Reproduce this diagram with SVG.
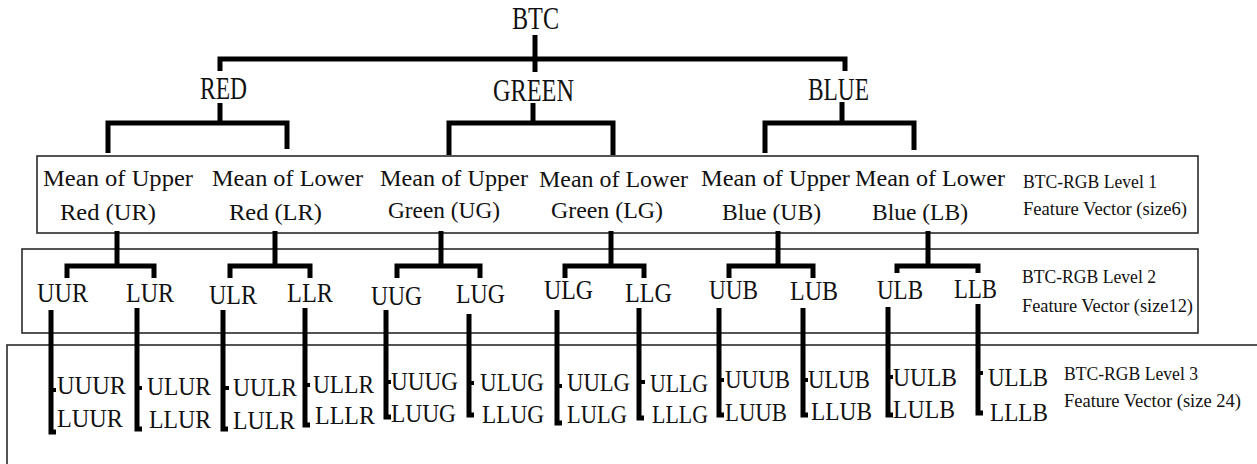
<svg xmlns="http://www.w3.org/2000/svg" width="1257" height="464" viewBox="0 0 1257 464">
  <style>
    text { font-family: "Liberation Serif", "Times New Roman", serif; fill: #111; }
    .t0 { font-size: 31px; }
    .t1 { font-size: 31px; }
    .l1 { font-size: 23px; }
    .l2 { font-size: 28px; }
    .l3 { font-size: 26px; }
    .side { font-size: 19px; }
    .box { fill: none; stroke: #2a2a2a; stroke-width: 1.6; }
    .wire { fill: none; stroke: #000; stroke-width: 5; stroke-linejoin: miter; }
    .tick { fill: none; stroke: #000; stroke-width: 4; }
  </style>

  <!-- level frames -->
  <g id="frames">
    <rect id="level1-box" class="box" x="37" y="156" width="1161" height="77"/>
    <rect id="level2-box" class="box" x="22" y="249" width="1176" height="84"/>
    <rect id="level3-box" class="box" x="7" y="345" width="1262" height="140"/>
  </g>

  <!-- connectors -->
  <g id="connectors">
    <!-- root -->
    <path class="wire" d="M535,35 V72"/>
    <path class="wire" d="M220,71 V59 H845 V71"/>
    <!-- colour channels -->
    <path class="wire" d="M220,103 V123"/>
    <path class="wire" d="M108,153 V123 H287 V149"/>
    <path class="wire" d="M533,103 V123"/>
    <path class="wire" d="M449,155 V123 H613 V155"/>
    <path class="wire" d="M842,102 V123"/>
    <path class="wire" d="M765,153 V123 H914 V150"/>
    <!-- level 1 to level 2 -->
    <path class="wire" d="M117,231 V266"/>
    <path class="wire" d="M67,278 V266 H154 V278"/>
    <path class="wire" d="M275,231 V266"/>
    <path class="wire" d="M230,278 V266 H310 V278"/>
    <path class="wire" d="M441,231 V266"/>
    <path class="wire" d="M397,278 V266 H480 V278"/>
    <path class="wire" d="M611,231 V266"/>
    <path class="wire" d="M565,278 V266 H644 V278"/>
    <path class="wire" d="M778,231 V266"/>
    <path class="wire" d="M729,278 V266 H813 V278"/>
    <path class="wire" d="M928,231 V266"/>
    <path class="wire" d="M897,273 V266 H978 V273"/>
    <!-- level 2 to level 3 -->
    <path class="wire" d="M51,310 V432 h5"/>   <path class="tick" d="M51,390 h5"/>
    <path class="wire" d="M137,308 V429 h5"/>  <path class="tick" d="M137,388 h5"/>
    <path class="wire" d="M223,310 V429 h5"/>  <path class="tick" d="M223,388 h6"/>
    <path class="wire" d="M305,308 V425 h5"/>  <path class="tick" d="M305,385 h5"/>
    <path class="wire" d="M386,310 V417 h5"/>  <path class="tick" d="M386,382 h5"/>
    <path class="wire" d="M469,314 V415 h5"/>  <path class="tick" d="M469,383 h5"/>
    <path class="wire" d="M557,310 V423 h5"/>  <path class="tick" d="M557,386 h5"/>
    <path class="wire" d="M639,308 V418 h5"/>  <path class="tick" d="M639,382 h6"/>
    <path class="wire" d="M719,308 V415 h5"/>  <path class="tick" d="M719,380 h5"/>
    <path class="wire" d="M803,308 V415 h5"/>  <path class="tick" d="M803,380 h5"/>
    <path class="wire" d="M888,307 V415 h5"/>  <path class="tick" d="M888,377 h5"/>
    <path class="wire" d="M978,304 V413 h5"/>  <path class="tick" d="M978,373 h5"/>
  </g>

  <!-- root and channels -->
  <g id="node-btc"><text class="t0" x="512" y="29" textLength="47" lengthAdjust="spacingAndGlyphs">BTC</text></g>
  <g id="node-red"><text class="t1" x="200" y="99" textLength="47" lengthAdjust="spacingAndGlyphs">RED</text></g>
  <g id="node-green"><text class="t1" x="493" y="101" textLength="81" lengthAdjust="spacingAndGlyphs">GREEN</text></g>
  <g id="node-blue"><text class="t1" x="808" y="100" textLength="61" lengthAdjust="spacingAndGlyphs">BLUE</text></g>

  <!-- level 1 -->
  <g id="node-ur">
    <text class="l1" x="43" y="186" textLength="150" lengthAdjust="spacingAndGlyphs">Mean of Upper</text>
    <text class="l1" x="60" y="220" textLength="96" lengthAdjust="spacingAndGlyphs">Red (UR)</text>
  </g>
  <g id="node-lr">
    <text class="l1" x="212" y="186" textLength="151" lengthAdjust="spacingAndGlyphs">Mean of Lower</text>
    <text class="l1" x="229" y="220" textLength="93" lengthAdjust="spacingAndGlyphs">Red (LR)</text>
  </g>
  <g id="node-ug">
    <text class="l1" x="380" y="186" textLength="148" lengthAdjust="spacingAndGlyphs">Mean of Upper</text>
    <text class="l1" x="388" y="218" textLength="112" lengthAdjust="spacingAndGlyphs">Green (UG)</text>
  </g>
  <g id="node-lg">
    <text class="l1" x="539" y="187" textLength="149" lengthAdjust="spacingAndGlyphs">Mean of Lower</text>
    <text class="l1" x="551" y="218" textLength="112" lengthAdjust="spacingAndGlyphs">Green (LG)</text>
  </g>
  <g id="node-ub">
    <text class="l1" x="701" y="186" textLength="149" lengthAdjust="spacingAndGlyphs">Mean of Upper</text>
    <text class="l1" x="722" y="220" textLength="99" lengthAdjust="spacingAndGlyphs">Blue (UB)</text>
  </g>
  <g id="node-lb">
    <text class="l1" x="855" y="186" textLength="150" lengthAdjust="spacingAndGlyphs">Mean of Lower</text>
    <text class="l1" x="872" y="220" textLength="96" lengthAdjust="spacingAndGlyphs">Blue (LB)</text>
  </g>
  <g id="caption-level1">
    <text class="side" x="1023" y="188" textLength="134" lengthAdjust="spacingAndGlyphs">BTC-RGB Level 1</text>
    <text class="side" x="1023" y="215" textLength="164" lengthAdjust="spacingAndGlyphs">Feature Vector (size6)</text>
  </g>

  <!-- level 2 -->
  <g id="node-uur"><text class="l2" x="37" y="302" textLength="51" lengthAdjust="spacingAndGlyphs">UUR</text></g>
  <g id="node-lur"><text class="l2" x="126" y="302" textLength="48" lengthAdjust="spacingAndGlyphs">LUR</text></g>
  <g id="node-ulr"><text class="l2" x="209" y="304" textLength="48" lengthAdjust="spacingAndGlyphs">ULR</text></g>
  <g id="node-llr"><text class="l2" x="287" y="302" textLength="46" lengthAdjust="spacingAndGlyphs">LLR</text></g>
  <g id="node-uug"><text class="l2" x="371" y="305" textLength="51" lengthAdjust="spacingAndGlyphs">UUG</text></g>
  <g id="node-lug"><text class="l2" x="456" y="303" textLength="49" lengthAdjust="spacingAndGlyphs">LUG</text></g>
  <g id="node-ulg"><text class="l2" x="544" y="299" textLength="49" lengthAdjust="spacingAndGlyphs">ULG</text></g>
  <g id="node-llg"><text class="l2" x="625" y="302" textLength="47" lengthAdjust="spacingAndGlyphs">LLG</text></g>
  <g id="node-uub"><text class="l2" x="709" y="299" textLength="49" lengthAdjust="spacingAndGlyphs">UUB</text></g>
  <g id="node-lub"><text class="l2" x="790" y="300" textLength="48" lengthAdjust="spacingAndGlyphs">LUB</text></g>
  <g id="node-ulb"><text class="l2" x="877" y="299" textLength="46" lengthAdjust="spacingAndGlyphs">ULB</text></g>
  <g id="node-llb"><text class="l2" x="954" y="298" textLength="43" lengthAdjust="spacingAndGlyphs">LLB</text></g>
  <g id="caption-level2">
    <text class="side" x="1022" y="283" textLength="134" lengthAdjust="spacingAndGlyphs">BTC-RGB Level 2</text>
    <text class="side" x="1022" y="312" textLength="171" lengthAdjust="spacingAndGlyphs">Feature Vector (size12)</text>
  </g>

  <!-- level 3 -->
  <g id="node-uuur"><text class="l3" x="57" y="394" textLength="69" lengthAdjust="spacingAndGlyphs">UUUR</text></g>
  <g id="node-luur"><text class="l3" x="57" y="427" textLength="66" lengthAdjust="spacingAndGlyphs">LUUR</text></g>
  <g id="node-ulur"><text class="l3" x="147" y="395" textLength="64" lengthAdjust="spacingAndGlyphs">ULUR</text></g>
  <g id="node-llur"><text class="l3" x="149" y="428" textLength="62" lengthAdjust="spacingAndGlyphs">LLUR</text></g>
  <g id="node-uulr"><text class="l3" x="233" y="396" textLength="64" lengthAdjust="spacingAndGlyphs">UULR</text></g>
  <g id="node-lulr"><text class="l3" x="233" y="429" textLength="62" lengthAdjust="spacingAndGlyphs">LULR</text></g>
  <g id="node-ullr"><text class="l3" x="313" y="393" textLength="61" lengthAdjust="spacingAndGlyphs">ULLR</text></g>
  <g id="node-lllr"><text class="l3" x="315" y="424" textLength="60" lengthAdjust="spacingAndGlyphs">LLLR</text></g>
  <g id="node-uuug"><text class="l3" x="391" y="390" textLength="67" lengthAdjust="spacingAndGlyphs">UUUG</text></g>
  <g id="node-luug"><text class="l3" x="391" y="422" textLength="65" lengthAdjust="spacingAndGlyphs">LUUG</text></g>
  <g id="node-ulug"><text class="l3" x="480" y="391" textLength="64" lengthAdjust="spacingAndGlyphs">ULUG</text></g>
  <g id="node-llug"><text class="l3" x="482" y="423" textLength="62" lengthAdjust="spacingAndGlyphs">LLUG</text></g>
  <g id="node-uulg"><text class="l3" x="567" y="391" textLength="63" lengthAdjust="spacingAndGlyphs">UULG</text></g>
  <g id="node-lulg"><text class="l3" x="567" y="423" textLength="60" lengthAdjust="spacingAndGlyphs">LULG</text></g>
  <g id="node-ullg"><text class="l3" x="650" y="392" textLength="58" lengthAdjust="spacingAndGlyphs">ULLG</text></g>
  <g id="node-lllg"><text class="l3" x="652" y="423" textLength="56" lengthAdjust="spacingAndGlyphs">LLLG</text></g>
  <g id="node-uuub"><text class="l3" x="725" y="388" textLength="65" lengthAdjust="spacingAndGlyphs">UUUB</text></g>
  <g id="node-luub"><text class="l3" x="725" y="421" textLength="62" lengthAdjust="spacingAndGlyphs">LUUB</text></g>
  <g id="node-ulub"><text class="l3" x="808" y="388" textLength="62" lengthAdjust="spacingAndGlyphs">ULUB</text></g>
  <g id="node-llub"><text class="l3" x="811" y="420" textLength="61" lengthAdjust="spacingAndGlyphs">LLUB</text></g>
  <g id="node-uulb"><text class="l3" x="893" y="386" textLength="64" lengthAdjust="spacingAndGlyphs">UULB</text></g>
  <g id="node-lulb"><text class="l3" x="893" y="418" textLength="62" lengthAdjust="spacingAndGlyphs">LULB</text></g>
  <g id="node-ullb"><text class="l3" x="988" y="386" textLength="60" lengthAdjust="spacingAndGlyphs">ULLB</text></g>
  <g id="node-lllb"><text class="l3" x="990" y="421" textLength="58" lengthAdjust="spacingAndGlyphs">LLLB</text></g>
  <g id="caption-level3">
    <text class="side" x="1064" y="380" textLength="134" lengthAdjust="spacingAndGlyphs">BTC-RGB Level 3</text>
    <text class="side" x="1064" y="407" textLength="177" lengthAdjust="spacingAndGlyphs">Feature Vector (size 24)</text>
  </g>
</svg>
